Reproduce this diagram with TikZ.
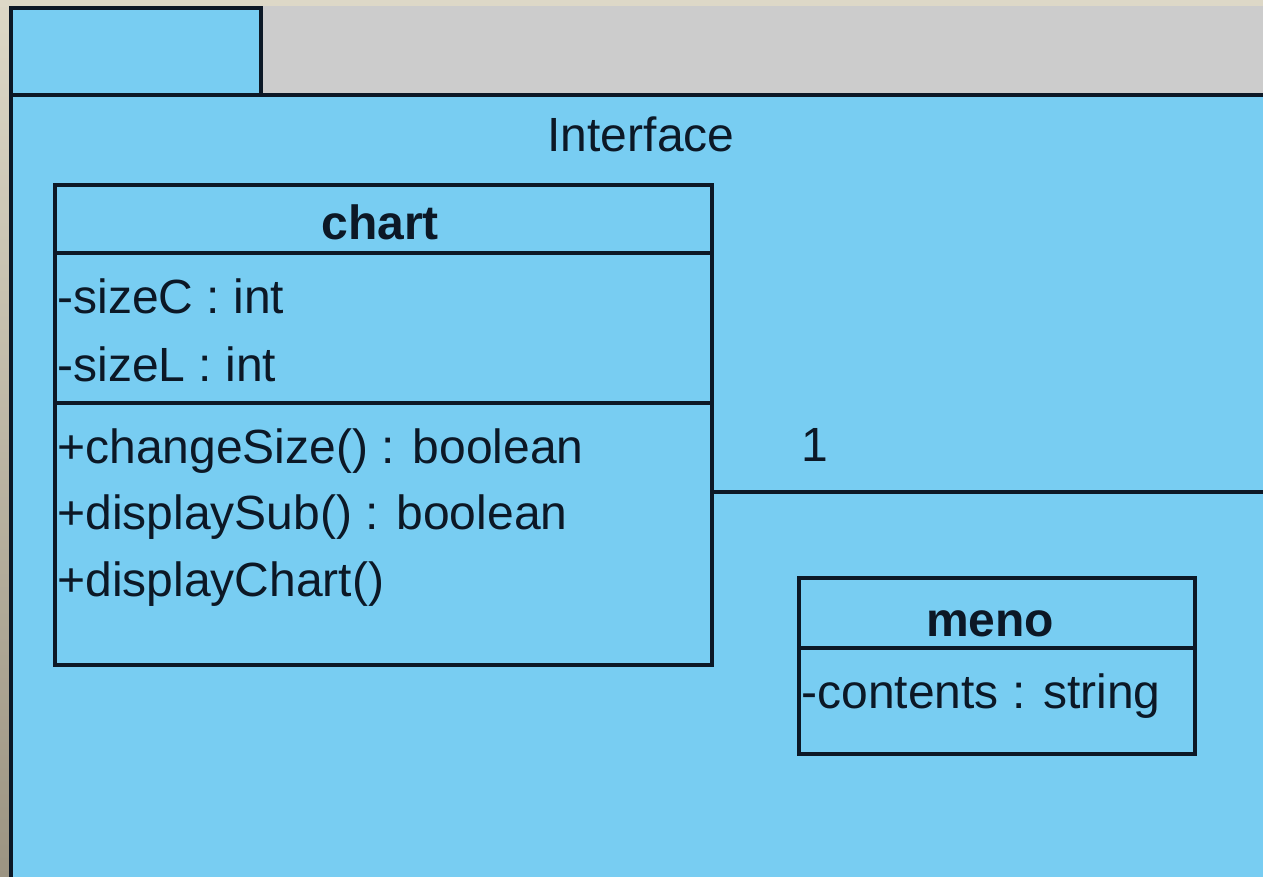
\documentclass[tikz,border=0pt]{standalone}
\usepackage{fontspec}
\setmainfont{Liberation Sans}
\usetikzlibrary{positioning}
\definecolor{pkgblue}{RGB}{120,205,242}
\definecolor{ink}{RGB}{12,24,38}
\definecolor{screengray}{RGB}{204,204,204}
\definecolor{framebeige}{RGB}{221,216,199}
\definecolor{frametan}{RGB}{156,148,130}
\begin{document}
\begin{tikzpicture}[x=0.5pt,y=-0.5pt,
    outline/.style={draw=ink,line width=1.7pt},
    classbox/.style={outline,fill=pkgblue,inner sep=0pt},
    umltext/.style={inner sep=0pt,anchor=base west,text=ink,
      font=\fontsize{24}{28}\selectfont},
    umlname/.style={umltext,anchor=base,font=\fontsize{24}{28}\selectfont\bfseries}
  ]
    \useasboundingbox (0,0) rectangle (1263,877);
    \clip (0,0) rectangle (1263,877);

    % screen behind the package
    \fill[screengray] (0,0) rectangle (1263,877);
    \fill[framebeige] (0,0) rectangle (1263,6);
    \shade[top color=framebeige,bottom color=frametan] (0,0) rectangle (9,877);

    % package Interface
    \draw[outline,fill=pkgblue] (11,8) rectangle (261,95);
    \draw[outline,fill=pkgblue] (11,95) rectangle (1300,920);
    \node[umltext,anchor=base] (pkgname) at (641,152) {Interface};

    % class chart
    \node[classbox,minimum width=328.5pt,minimum height=240pt] (chart) at (383.5,425) {};
    \draw[outline] (chart.west |- 0,253) -- (chart.east |- 0,253);
    \draw[outline] (chart.west |- 0,403) -- (chart.east |- 0,403);
    \node[umlname] (chartname) at (380,240) {chart};
    \node[umltext] (sizeC) at (57,314) {-sizeC : int};
    \node[umltext] (sizeL) at (57,381) {-sizeL : int};
    \node[umltext] (changeSize) at (57,463) {+changeSize() : boolean};
    \node[umltext] (displaySub) at (57,529) {+displaySub() : boolean};
    \node[umltext] (displayChart) at (57,596) {+displayChart()};

    % class meno
    \node[classbox,minimum width=198pt,minimum height=88pt] (meno) at (997,666) {};
    \draw[outline] (meno.west |- 0,648) -- (meno.east |- 0,648);
    \node[umlname] (menoname) at (990,636) {meno};
    \node[umltext] (contents) at (801,708) {-contents : string};

    % association leaving the picture
    \coordinate (assocend) at (1280,492);
    \draw[outline] (chart.east |- assocend) -- (assocend);
    \node[umltext] (mult) at (801,461) {1};
\end{tikzpicture}
\end{document}
